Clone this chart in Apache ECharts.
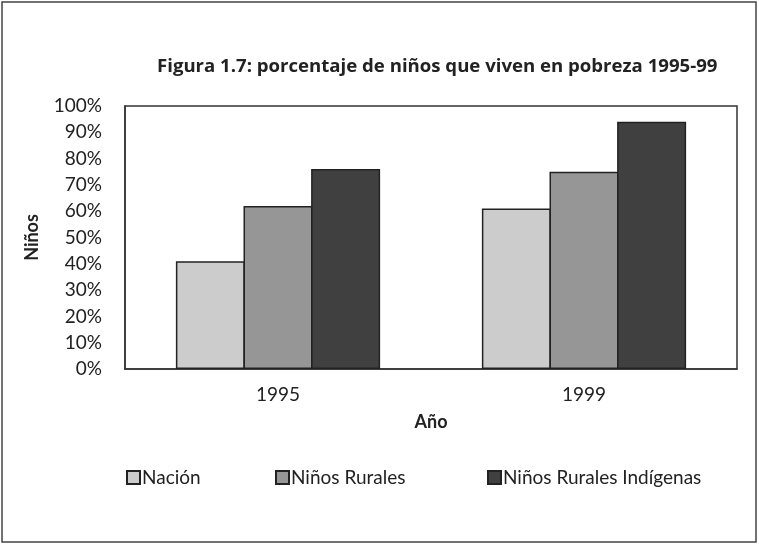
<!DOCTYPE html>
<html>
<head>
<meta charset="utf-8">
<script src="https://cdn.jsdelivr.net/npm/echarts@6/dist/echarts.min.js"></script>
<style>
  html, body { margin: 0; padding: 0; background: #fff; }
  #chart { width: 759px; height: 545px; }
</style>
</head>
<body>
<div id="chart"></div>
<script>
// datos
const years = ["1995", "1999"];
const nacion = [41, 61];
const ruralesNinos = [62, 75];
const indigenas = [76, 94];
const seriesNames = ["Nación", "Niños Rurales", "Niños Rurales Indígenas"];
const seriesColors = ["#cccccc", "#969696", "#404040"];

const chart = echarts.init(document.getElementById("chart"));
const font = "Lato, 'Open Sans', sans-serif";

const makeSeries = (name, data, color) => ({
  name: name,
  type: "bar",
  data: data,
  barWidth: 69,
  barGap: "-2%",
  itemStyle: { color: color, borderColor: "#222", borderWidth: 1.5 },
  emphasis: { disabled: true }
});

// una leyenda por serie para colocarlas como en el original
const legendLefts = [126, 275, 487];
const legends = seriesNames.map((n, i) => ({
  data: [n],
  left: legendLefts[i],
  top: 468,
  padding: 0,
  icon: "rect",
  itemWidth: 13,
  itemHeight: 13,
  selectedMode: false,
  textStyle: { fontFamily: font, fontSize: 19, color: "#222", padding: [0, 0, 0, -3] }
}));

const option = {
  backgroundColor: "#fff",
  animation: false,
  title: {
    text: "Figura 1.7: porcentaje de niños que viven en pobreza 1995-99",
    left: 152,
    top: 52,
    textStyle: { fontFamily: "'Open Sans', sans-serif", fontSize: 18.6, fontWeight: "bold", color: "#222" }
  },
  graphic: [{
    type: "rect",
    shape: { x: 2, y: 2, width: 754, height: 540 },
    style: { fill: "none", stroke: "#444", lineWidth: 1.5 },
    silent: true
  }],
  legend: legends,
  grid: {
    left: 125, right: 22, top: 106, bottom: 176,
    show: true, borderColor: "#333", borderWidth: 1.5, backgroundColor: "#fff"
  },
  xAxis: {
    type: "category",
    data: years,
    name: "Año",
    nameLocation: "middle",
    nameGap: 44,
    nameTextStyle: { fontFamily: font, fontSize: 18, fontWeight: "bold", color: "#222" },
    axisLine: { show: true, lineStyle: { color: "#333", width: 1.5 } },
    axisTick: { show: false },
    axisLabel: { margin: 16, fontFamily: font, fontSize: 19, color: "#222" }
  },
  yAxis: {
    type: "value",
    min: 0,
    max: 100,
    interval: 10,
    name: "Niños",
    nameLocation: "middle",
    nameRotate: 90,
    nameGap: 84,
    nameTextStyle: { fontFamily: font, fontSize: 18, fontWeight: "bold", color: "#222" },
    splitLine: { show: false },
    axisLine: { show: true, lineStyle: { color: "#333", width: 1.5 } },
    axisTick: { show: false },
    axisLabel: { margin: 23, fontFamily: font, fontSize: 19, color: "#222", formatter: "{value}%" }
  },
  series: [
    makeSeries(seriesNames[0], nacion, seriesColors[0]),
    makeSeries(seriesNames[1], ruralesNinos, seriesColors[1]),
    makeSeries(seriesNames[2], indigenas, seriesColors[2])
  ]
};

chart.setOption(option);
</script>
</body>
</html>
